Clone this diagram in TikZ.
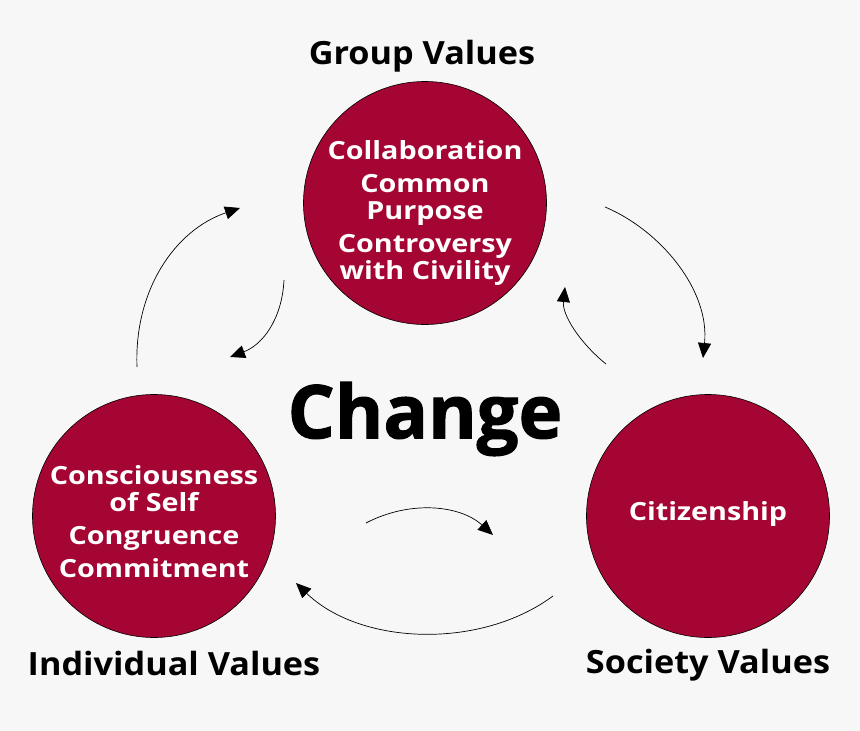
\documentclass[tikz,border=0pt]{standalone}
\usepackage{fontspec}
\setmainfont{Open Sans}
\newfontfamily\valfont{Open Sans}[FakeStretch=1.15]
\newfontfamily\headfont{Open Sans}[FakeStretch=1.07]
\newfontfamily\changefont{Open Sans}[BoldFeatures={FakeBold=1.5}]
\usepackage{xcolor}
\usetikzlibrary{arrows.meta}

\definecolor{valred}{HTML}{A50533}
\definecolor{paper}{HTML}{F7F7F7}

\begin{document}
\begin{tikzpicture}[x=1pt,y=-1pt,
    valcircle/.style={circle,draw=black,line width=0.6pt,fill=valred,minimum size=243pt,inner sep=0pt},
    valtext/.style={text=white,font=\valfont\bfseries\fontsize{25}{27}\selectfont,align=center},
    headtext/.style={font=\headfont\bfseries\fontsize{32}{36}\selectfont},
    cycle/.style={-{Triangle[length=15pt,width=13pt]},line width=0.7pt}]
    % Background
    \fill[paper] (0,0) rectangle (860,731);
    \useasboundingbox (0,0) rectangle (860,731);

    % Value circles
    \node[valcircle] (group) at (425,203) {};
    \node[valcircle] (indiv) at (154,516) {};
    \node[valcircle] (society) at (708,516) {};

    % Circle texts
    \node[valtext] (grouptext) at (425,213) {Collaboration\\[6pt]Common\\Purpose\\[6pt]Controversy\\with Civility};
    \node[valtext] (indivtext) at (154,522) {Consciousness\\of Self\\[6pt]Congruence\\[6pt]Commitment};
    \node[valtext] (societytext) at (708,514) {Citizenship};

    % Headings
    \node[headtext] (grouphead) at (422,56) {Group Values};
    \node[headtext] (indivhead) at (174,663) {Individual Values};
    \node[headtext] (societyhead) at (708,665) {Society Values};
    \node[font=\changefont\bfseries\fontsize{74}{80}\selectfont] (change) at (425,419) {Change};

    % Arrow end points
    \coordinate (a1) at (137,367); \coordinate (b1) at (240,208);
    \coordinate (a2) at (284,280); \coordinate (b2) at (230,357);
    \coordinate (a3) at (605,207); \coordinate (b3) at (703,358);
    \coordinate (a4) at (606,364); \coordinate (b4) at (565,287);
    \coordinate (a5) at (366,523); \coordinate (b5) at (493,535);
    \coordinate (a6) at (553,596); \coordinate (b6) at (296,583);

    % Cycle arrows
    \draw[cycle] (a1) .. controls (134,290) and (175,230) .. (b1);
    \draw[cycle] (a2) .. controls (282,320) and (262,345) .. (b2);
    \draw[cycle] (a3) .. controls (660,230) and (710,290) .. (b3);
    \draw[cycle] (a4) .. controls (580,343) and (562,315) .. (b4);
    \draw[cycle] (a5) .. controls (410,500) and (460,505) .. (b5);
    \draw[cycle] (a6) .. controls (480,650) and (360,645) .. (b6);
\end{tikzpicture}
\end{document}
